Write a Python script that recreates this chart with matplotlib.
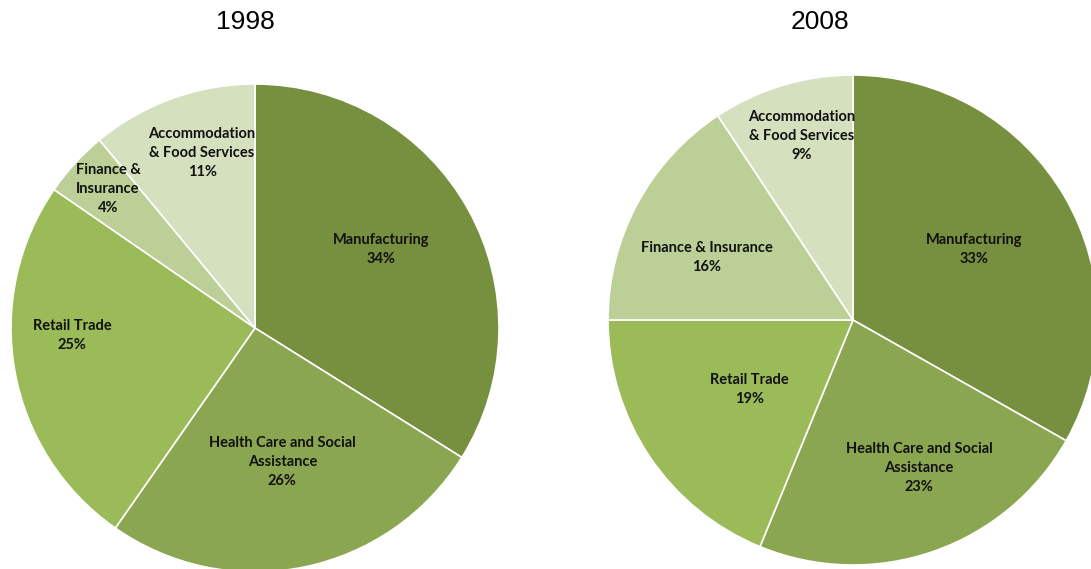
import matplotlib
matplotlib.use("Agg")
import matplotlib.pyplot as plt
import numpy as np

categories = ["Manufacturing", "Health Care and Social\nAssistance", "Retail Trade",
              "Finance &\nInsurance", "Accommodation\n& Food Services"]
categories_2008 = ["Manufacturing", "Health Care and Social\nAssistance", "Retail Trade",
                   "Finance & Insurance", "Accommodation\n& Food Services"]
years = ["1998", "2008"]
shares_1998 = [33.9, 25.8, 24.9, 4.4, 11.0]
shares_2008 = [33.2, 23.0, 18.8, 15.7, 9.3]
pct_1998 = ["34%", "26%", "25%", "4%", "11%"]
pct_2008 = ["33%", "23%", "19%", "16%", "9%"]

colors = ["#779040", "#8BA651", "#9BBB59", "#BBCF97", "#D5E0BF"]

W, H = 1091, 569
fig = plt.figure(figsize=(W / 100, H / 100), dpi=100)

def make_axes(cx, cy, r):
    return fig.add_axes([(cx - r) / W, (H - cy - r) / H, 2 * r / W, 2 * r / H])

# label placement styling (radial fraction, angle tweak in degrees)
lab_r_1998 = [0.61, 0.56, 0.75, 0.83, 0.75]
lab_da_1998 = [3, 0, -8, -1, -3]
lab_r_2008 = [0.57, 0.66, 0.51, 0.65, 0.78]
lab_da_2008 = [0, 5, 0, 5, -1]

def draw(ax, shares, labels, pcts, lab_r, lab_da):
    wedges, _ = ax.pie(shares, colors=colors, startangle=90, counterclock=False,
                       wedgeprops=dict(edgecolor="white", linewidth=1.2))
    for w, lab, p, r, da in zip(wedges, labels, pcts, lab_r, lab_da):
        ang = np.deg2rad((w.theta1 + w.theta2) / 2 + da)
        ax.text(r * np.cos(ang), r * np.sin(ang), f"{lab}\n{p}", ha="center", va="center",
                fontsize=10.5, fontweight="bold", family=["Lato", "DejaVu Sans"],
                color="#111111", linespacing=1.45)
    ax.set_xlim(-1, 1)
    ax.set_ylim(-1, 1)
    ax.set_aspect("auto")
    ax.axis("off")

ax1 = make_axes(255, 328, 244)
draw(ax1, shares_1998, categories, pct_1998, lab_r_1998, lab_da_1998)
ax2 = make_axes(853, 320, 245)
draw(ax2, shares_2008, categories_2008, pct_2008, lab_r_2008, lab_da_2008)

fig.text(245 / W, 1 - 22 / H, years[0], ha="center", va="center", fontsize=19,
         family="Liberation Sans")
fig.text(820 / W, 1 - 22 / H, years[1], ha="center", va="center", fontsize=19,
         family="Liberation Sans")

fig.savefig("out.png", dpi=100)
